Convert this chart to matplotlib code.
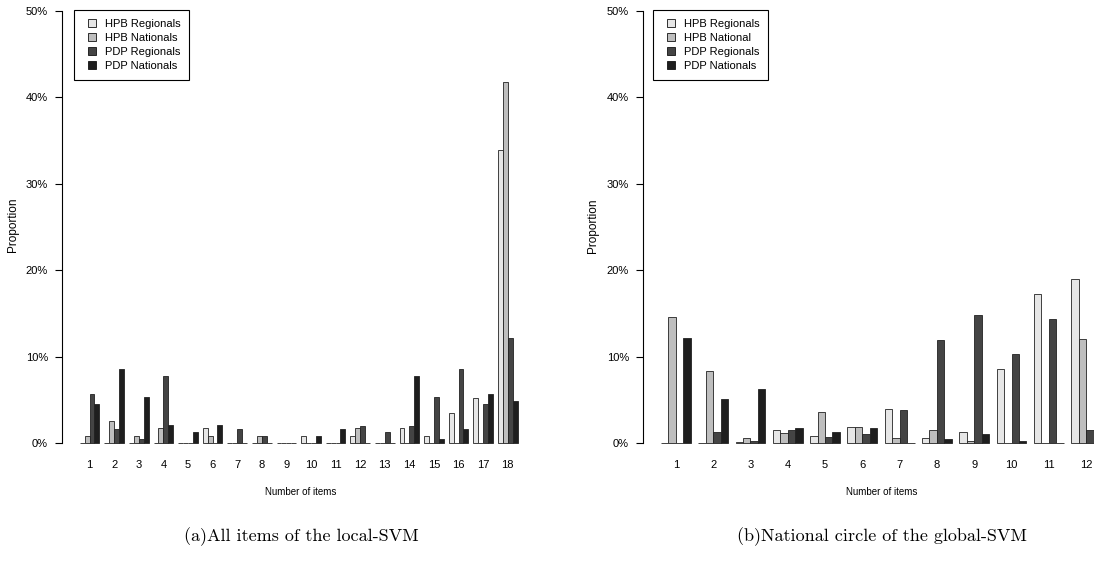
import matplotlib
matplotlib.use("Agg")
import matplotlib.pyplot as plt
from matplotlib.lines import Line2D
import numpy as np

# ---------------- data ----------------
series_left = ["HPB Regionals", "HPB Nationals", "PDP Regionals", "PDP Nationals"]
series_right = ["HPB Regionals", "HPB National", "PDP Regionals", "PDP Nationals"]
colors = ["#E6E6E6", "#BEBEBE", "#444444", "#1E1E1E"]

cats_left = [str(i) for i in range(1, 19)]
hpb_reg_left = [0, 0, 0, 0, 0, 1.77, 0, 0, 0, 0.85, 0, 0.85, 0, 1.73, 0.85, 3.46, 5.23, 33.9]
hpb_nat_left = [0.85, 2.6, 0.85, 1.77, 0, 0.85, 0, 0.85, 0, 0, 0, 1.73, 0, 0, 0, 0, 0, 41.8]
pdp_reg_left = [5.7, 1.6, 0.46, 7.73, 0, 0, 1.6, 0.8, 0, 0, 0, 2.0, 1.23, 2.0, 5.27, 8.54, 4.46, 12.2]
pdp_nat_left = [4.46, 8.54, 5.3, 2.04, 1.27, 2.04, 0, 0, 0, 0.8, 1.6, 0, 0, 7.73, 0.42, 1.6, 5.7, 4.85]

cats_right = [str(i) for i in range(1, 13)]
hpb_reg_right = [0, 0, 0.15, 1.46, 0.8, 1.85, 3.96, 0.6, 1.23, 8.58, 17.3, 19.0]
hpb_nat_right = [14.55, 8.38, 0.6, 1.2, 3.58, 1.85, 0.6, 1.46, 0.2, 0, 0, 12.0]
pdp_reg_right = [0, 1.3, 0.2, 1.54, 0.73, 1.0, 3.85, 11.9, 14.8, 10.35, 14.3, 1.54]
pdp_nat_right = [12.15, 5.15, 6.2, 1.77, 1.3, 1.77, 0, 0.5, 1.04, 0.23, 0, 7.8]

yticks = [0, 10, 20, 30, 40, 50]
ytick_labels = ["0%", "10%", "20%", "30%", "40%", "50%"]

SANS = ["Liberation Sans", "DejaVu Sans"]
plt.rcParams["font.family"] = SANS

W, H = 1094, 561
fig = plt.figure(figsize=(W / 100, H / 100), dpi=100)


def make_panel(left_px, unit_px, xlim, cats, data, labels, legend_px,
               caption, caption_x, ylabel_xy):
    ylo, yhi = -1.0, 50.0
    px_per = 8.64
    bottom_px = 443 + (-ylo) * px_per
    height_px = (yhi - ylo) * px_per
    width_px = (xlim[1] - xlim[0]) * unit_px
    ax = fig.add_axes([left_px / W, (H - bottom_px) / H, width_px / W, height_px / H])
    ax.set_xlim(*xlim)
    ax.set_ylim(ylo, yhi)
    n = len(cats)
    for j, (vals, c, lab) in enumerate(zip(data, colors, labels)):
        xs = np.arange(n) * 5 + 1.5 + j
        ax.bar(xs, vals, width=1.0, color=c, edgecolor="#222222", linewidth=0.6,
               align="center")
    for s in ["top", "right", "bottom"]:
        ax.spines[s].set_visible(False)
    ax.spines["left"].set_bounds(0, 50)
    ax.spines["left"].set_linewidth(0.8)
    ax.set_yticks(yticks)
    ax.set_yticklabels(ytick_labels, fontsize=8)
    ax.tick_params(axis="y", length=5, width=0.8, pad=5)
    ax.set_xticks(np.arange(n) * 5 + 3)
    ax.set_xticklabels(cats, fontsize=8)
    ax.tick_params(axis="x", length=0, pad=5.7)
    fig.text(ylabel_xy[0] / W, 1 - ylabel_xy[1] / H, "Proportion", fontsize=8.5,
             rotation=90, ha="center", va="center")
    handles = [Line2D([], [], linestyle="none", marker="s", markersize=5.2,
                      markerfacecolor=c, markeredgecolor="#111111",
                      markeredgewidth=0.6) for c in colors]
    leg = ax.legend(handles, labels, loc="upper left",
                    bbox_to_anchor=(legend_px[0] / W, 1 - legend_px[1] / H),
                    bbox_transform=fig.transFigure, fontsize=8, frameon=True,
                    fancybox=False, edgecolor="black", framealpha=1,
                    borderaxespad=0, handlelength=1.6, handleheight=0.8,
                    handletextpad=0.4, labelspacing=0.37, borderpad=0.78)
    leg.get_frame().set_linewidth(0.8)
    fig.text(caption_x / W, 1 - 492 / H, "Number of items", fontsize=7,
             ha="center", va="center")
    fig.text(caption_x / W, 1 - 537 / H, caption, fontsize=13,
             ha="center", va="center", family="cmr10")
    return ax


make_panel(62, 4.92, (-2.6, 94.6), cats_left,
           [hpb_reg_left, hpb_nat_left, pdp_reg_left, pdp_nat_left],
           series_left, (74, 10), "(a)All items of the local-SVM", 301, (13.5, 224.5))
make_panel(643, 7.46, (-1.4, 63.4), cats_right,
           [hpb_reg_right, hpb_nat_right, pdp_reg_right, pdp_nat_right],
           series_right, (653, 10), "(b)National circle of the global-SVM", 882, (592.5, 226))

fig.savefig("out.png", dpi=100)
